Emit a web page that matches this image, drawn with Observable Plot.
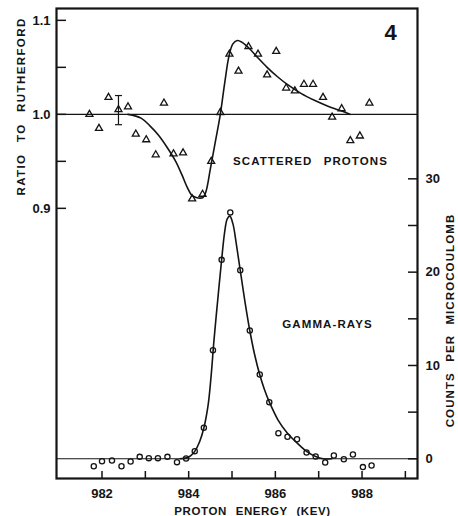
<!DOCTYPE html>
<html><head><meta charset="utf-8">
<script src="https://cdn.jsdelivr.net/npm/d3@7"></script>
<script src="https://cdn.jsdelivr.net/npm/@observablehq/plot@0.6"></script>
<style>
body{margin:0;background:#fff;}
#wrap{position:relative;width:458px;height:516px;}
#wrap svg{position:absolute;left:0;top:0;overflow:visible;}
</style></head><body><div id="wrap"></div>
<script>
// Scattered protons: ratio to Rutherford
const ratioEnergy = [981.71, 981.93, 982.15, 982.38, 982.60, 982.78, 983.02, 983.24, 983.43, 983.65, 983.87, 984.08, 984.32, 984.52, 984.73, 984.94, 985.15, 985.38, 985.60, 985.81, 986.02, 986.25, 986.45, 986.66, 986.87, 987.10, 987.31, 987.53, 987.73, 987.95, 988.17];
const ratioValue = [1.000, 0.985, 1.018, 1.005, 1.008, 0.979, 0.973, 0.957, 1.012, 0.958, 0.959, 0.910, 0.915, 0.950, 1.002, 1.064, 1.046, 1.072, 1.064, 1.042, 1.067, 1.028, 1.025, 1.032, 1.032, 1.018, 0.997, 1.006, 0.972, 0.977, 1.012];
// fitted curve through the scattered-proton ratio
const ratioCurveEnergy = [982.60, 982.90, 983.10, 983.30, 983.50, 983.70, 983.85, 983.97, 984.07, 984.17, 984.33, 984.40, 984.50, 984.62, 984.73, 984.83, 984.93, 985.02, 985.12, 985.22, 985.40, 985.60, 985.81, 986.05, 986.30, 986.60, 986.90, 987.20, 987.50, 987.72];
const ratioCurveValue = [1.000, 0.996, 0.988, 0.978, 0.965, 0.950, 0.935, 0.922, 0.914, 0.9115, 0.9115, 0.918, 0.942, 0.972, 1.000, 1.033, 1.062, 1.075, 1.0785, 1.077, 1.070, 1.060, 1.050, 1.040, 1.031, 1.022, 1.015, 1.009, 1.004, 1.000];
// error bar on one point
const errEnergy = [982.38];
const errLow = [0.989];
const errHigh = [1.020];
// Gamma-rays: counts per microcoulomb
const gammaEnergy = [981.81, 982.00, 982.23, 982.45, 982.66, 982.87, 983.08, 983.29, 983.51, 983.73, 983.94, 984.14, 984.35, 984.56, 984.76, 984.96, 985.19, 985.41, 985.64, 985.86, 986.07, 986.28, 986.50, 986.72, 986.93, 987.15, 987.35, 987.58, 987.79, 988.02, 988.22];
const gammaCounts = [-0.79, -0.26, -0.18, -0.79, -0.29, 0.21, 0.07, 0.07, 0.21, -0.36, 0.04, 0.82, 3.32, 11.64, 21.32, 26.4, 20.2, 13.75, 9.03, 6.07, 2.75, 2.36, 2.1, 0.68, 0.25, -0.39, 0.36, -0.04, 0.46, -0.89, -0.71];
const gammaCurveEnergy = [983.80, 983.95, 984.05, 984.14, 984.25, 984.35, 984.45, 984.52, 984.58, 984.67, 984.76, 984.83, 984.89, 984.95, 985.02, 985.10, 985.19, 985.30, 985.41, 985.52, 985.64, 985.75, 985.86, 986.07, 986.27, 986.50, 986.72, 986.93, 987.10, 987.30];
const gammaCurveCounts = [0, 0.1, 0.35, 0.8, 1.8, 3.3, 5.8, 9.0, 12.5, 17.0, 21.3, 24.3, 25.7, 26.0, 25.2, 23.0, 20.2, 16.8, 13.75, 11.2, 9.0, 7.4, 6.1, 4.1, 2.8, 1.7, 0.8, 0.25, 0.0, 0.0];
// ticks
const xTicks = [982, 983, 984, 985, 986, 987, 988, 989];
const xTickLabels = [982, 984, 986, 988];
const ratioTicks = [0.9, 0.95, 1.0, 1.05, 1.1];
const ratioTickLabels = [0.9, 1.0, 1.1];
const countTicks = [0, 5, 10, 15, 20, 25, 30];
const countTickLabels = [0, 10, 20, 30];

const ratioPts = ratioEnergy.map((e, i) => ({e, v: ratioValue[i]}));
const ratioCurve = ratioCurveEnergy.map((e, i) => ({e, v: ratioCurveValue[i]}));
const errBar = errEnergy.map((e, i) => ({e, lo: errLow[i], hi: errHigh[i]}));
const gammaPts = gammaEnergy.map((e, i) => ({e, v: gammaCounts[i]}));
const gammaCurve = gammaCurveEnergy.map((e, i) => ({e, v: gammaCurveCounts[i]}));

const ink = "#141414";
const font = "'Liberation Sans', Arial, sans-serif";
const common = {
  width: 458, height: 516,
  marginTop: 8, marginRight: 41, marginBottom: 38, marginLeft: 56,
  style: {fontFamily: font, fontSize: "13px", fontWeight: "bold", background: "transparent", color: ink, overflow: "visible"}
};
const capSymbol = {draw(ctx) { ctx.moveTo(-3.5, 0); ctx.lineTo(3.5, 0); }};
const label = (txt, opts) => Plot.text([txt], {textAnchor: "middle", lineAnchor: "middle", fontSize: 11.5, fill: ink, ...opts});

const plotB = Plot.plot({
  ...common,
  x: {domain: [980.95, 989.28]},
  y: {domain: [-2.11, 48.25]},
  marks: [
    Plot.frame({stroke: ink, strokeWidth: 2.2}),
    Plot.ruleY([0], {stroke: ink, strokeWidth: 1.1}),
    Plot.line(gammaCurve, {x: "e", y: "v", curve: "catmull-rom", stroke: ink, strokeWidth: 1.6}),
    Plot.dot(gammaPts, {x: "e", y: "v", r: 2.6, stroke: ink, strokeWidth: 1.3, fill: "none"}),
    Plot.axisX({ticks: xTicks, tickSize: -7, tickFormat: () => "", label: null, stroke: ink, strokeWidth: 1.5}),
    Plot.axisX({ticks: xTickLabels, tickSize: 0, tickPadding: 10, tickFormat: d => String(d), label: null, fontSize: 13}),
    Plot.axisY({anchor: "right", ticks: countTicks, tickSize: -10, tickFormat: () => "", label: null, stroke: ink, strokeWidth: 1.5}),
    Plot.axisY({anchor: "right", ticks: countTickLabels, tickSize: 0, tickPadding: 8, tickFormat: d => String(d), label: null, fontSize: 13}),
    label("PROTON ENERGY (KEV)", {frameAnchor: "bottom-left", dx: 196, dy: 33}),
    label("COUNTS PER MICROCOULOMB", {frameAnchor: "top-right", dx: 33, dy: 312, rotate: -90}),
    label("GAMMA-RAYS", {frameAnchor: "top-left", dx: 271, dy: 316}),
    label("SCATTERED PROTONS", {frameAnchor: "top-left", dx: 254, dy: 153}),
    label("4", {frameAnchor: "top-right", dx: -27, dy: 24, fontSize: 22})
  ]
});

const plotA = Plot.plot({
  ...common,
  x: {domain: [980.95, 989.28], axis: null},
  y: {domain: [0.6126, 1.1126]},
  marks: [
    Plot.ruleY([1], {stroke: ink, strokeWidth: 1.1}),
    Plot.line(ratioCurve, {x: "e", y: "v", curve: "catmull-rom", stroke: ink, strokeWidth: 1.6}),
    Plot.ruleX(errBar, {x: "e", y1: "lo", y2: "hi", stroke: ink, strokeWidth: 1.2}),
    Plot.dot(errBar, {x: "e", y: "lo", symbol: capSymbol, r: 3, stroke: ink, strokeWidth: 1.2}),
    Plot.dot(errBar, {x: "e", y: "hi", symbol: capSymbol, r: 3, stroke: ink, strokeWidth: 1.2}),
    Plot.dot(ratioPts, {x: "e", y: "v", symbol: "triangle", r: 2.6, stroke: ink, strokeWidth: 1.3, fill: "none"}),
    Plot.axisY({anchor: "left", ticks: ratioTicks, tickSize: -10, tickFormat: () => "", label: null, stroke: ink, strokeWidth: 1.5}),
    Plot.axisY({anchor: "left", ticks: ratioTickLabels, tickSize: 0, tickPadding: 6, tickFormat: d => d.toFixed(1), label: null, fontSize: 13}),
    label("RATIO TO RUTHERFORD", {frameAnchor: "top-left", dx: -35, dy: 98, rotate: -90})
  ]
});

const wrap = document.getElementById("wrap");
wrap.appendChild(plotB);
wrap.appendChild(plotA);

// letter and word spacing of the lettered titles, as in the reference
const spacing = {
  "RATIO TO RUTHERFORD": [1.4, 7],
  "COUNTS PER MICROCOULOMB": [1.1, 6],
  "PROTON ENERGY (KEV)": [0.6, 5],
  "SCATTERED PROTONS": [1.1, 7],
  "GAMMA-RAYS": [1.1, 4]
};
d3.select(wrap).selectAll("text").each(function() {
  const s = spacing[this.textContent];
  if (s) { this.style.letterSpacing = s[0] + "px"; this.style.wordSpacing = s[1] + "px"; }
});
</script>
</body></html>
